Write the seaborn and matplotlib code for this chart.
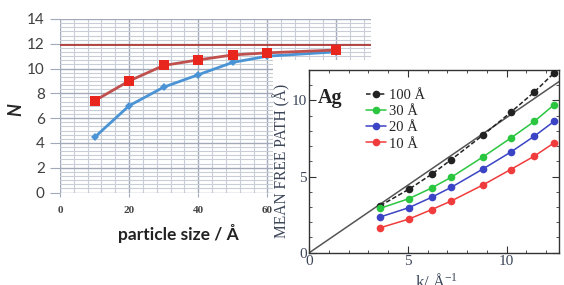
import numpy as np
import matplotlib
matplotlib.use("Agg")
import matplotlib.pyplot as plt
from matplotlib.ticker import MultipleLocator
import seaborn as sns

# left panel: coordination number vs particle size
size = [10, 20, 30, 40, 50, 60, 80]
n_red = [7.4, 9.0, 10.25, 10.7, 11.1, 11.27, 11.5]
n_blue = [4.45, 7.0, 8.5, 9.5, 10.5, 11.0, 11.35]
n_bulk = 11.9

# inset: mean free path vs k
k = [3.6, 5.05, 6.2, 7.2, 8.8, 10.2, 11.4, 12.4]
mfp_100 = [3.09, 4.17, 5.15, 6.12, 7.72, 9.21, 10.55, 11.8]
mfp_30 = [2.92, 3.55, 4.25, 4.96, 6.29, 7.52, 8.62, 9.71]
mfp_20 = [2.35, 2.96, 3.64, 4.3, 5.5, 6.6, 7.65, 8.62]
mfp_10 = [1.64, 2.21, 2.83, 3.4, 4.45, 5.46, 6.34, 7.21]
labels = ["100 Å", "30 Å", "20 Å", "10 Å"]
colors = ["#222222", "#2bc640", "#3a44c4", "#f03c3c"]
bulk_slope = 0.888

sns.set_style("white")
plt.rcParams['font.family'] = ['Lato', 'DejaVu Sans']
plt.rcParams['mathtext.fontset'] = 'stix'

W, H = 564, 285
fig = plt.figure(figsize=(W / 100, H / 100), dpi=100)

# ---- left chart
ax = fig.add_axes([60 / W, 1 - 192.5 / H, (371 - 60) / W, (192.5 - 19) / H])
ax.set_xlim(0, 90)
ax.set_ylim(0, 14)
ax.xaxis.set_major_locator(MultipleLocator(20))
ax.xaxis.set_minor_locator(MultipleLocator(4))
ax.yaxis.set_major_locator(MultipleLocator(2))
ax.yaxis.set_minor_locator(MultipleLocator(2 / 6))
ax.grid(which='major', color='#a2aaba', lw=1.0)
ax.grid(which='minor', color='#c8cdd8', lw=0.8)
ax.set_axisbelow(True)
for s in ax.spines.values():
    s.set_visible(False)
ax.tick_params(axis='y', which='major', length=7, color='#a2aaba', pad=4,
               labelsize=11, labelcolor='#404040', left=True)
ax.tick_params(axis='x', which='major', length=3, color='#a2aaba', pad=7,
               labelsize=8, labelcolor='#444444', bottom=True)
ax.tick_params(which='minor', length=0)
for t in ax.get_xticklabels():
    t.set_family(['Liberation Serif'])
    t.set_fontweight('bold')

ax.axhline(n_bulk, color='#b23a36', lw=1.3, zorder=2)
sns.lineplot(x=size, y=n_blue, ax=ax, color='#4a94d6', lw=2, marker='D',
             markersize=4, markeredgewidth=0, zorder=3)
sns.lineplot(x=size, y=n_red, ax=ax, color='#c0504d', lw=2, marker='s',
             markersize=7, markerfacecolor='#e8261e', markeredgewidth=0, zorder=4)
ax.set_ylabel('N', fontsize=13, fontweight='bold', style='italic', rotation=90)
ax.yaxis.set_label_coords(-(60 - 24) / 311, (192.5 - 110) / 173.5)
ax.set_xlabel('particle size / Å', fontsize=12.5, fontweight='bold', color='#222222')
ax.xaxis.set_label_coords((178 - 60) / 311, -(224 - 192.5) / 173.5)

# ---- white cover behind inset
cover = fig.add_axes([272.5 / W, 0, 1 - 272.5 / W, 1 - 60 / H])
cover.set_facecolor('white')
cover.set_xticks([])
cover.set_yticks([])
for s in cover.spines.values():
    s.set_visible(False)

# ---- inset chart
serif = ['Liberation Serif', 'DejaVu Serif']
ax2 = fig.add_axes([309.3 / W, 1 - 252.7 / H, (559.3 - 309.3) / W, (252.7 - 70) / H])
ax2.set_xlim(0, 12.67)
ax2.set_ylim(0, 12)
ax2.axline((0, 0), slope=bulk_slope, color='#555555', lw=1.1, zorder=1)
series = [mfp_100, mfp_30, mfp_20, mfp_10]
for vals, lab, c in zip(series, labels, colors):
    ls = (0, (3, 1.5)) if lab == "100 Å" else '-'
    sns.lineplot(x=k, y=vals, ax=ax2, color=c, lw=1.1, ls=ls, marker='o',
                 markersize=5.5, markeredgewidth=0, label=lab, zorder=3)
ax2.xaxis.set_major_locator(MultipleLocator(5))
ax2.xaxis.set_minor_locator(MultipleLocator(1))
ax2.yaxis.set_major_locator(MultipleLocator(5))
ax2.yaxis.set_minor_locator(MultipleLocator(1))
ax2.tick_params(which='both', direction='in', top=True, right=True,
                bottom=True, left=True, color='#333333')
ax2.tick_params(which='major', length=5, labelsize=11, labelcolor='#3c4658', pad=2)
ax2.tick_params(which='minor', length=2.5)
for t in ax2.get_xticklabels() + ax2.get_yticklabels():
    t.set_family(serif)
for s in ax2.spines.values():
    s.set_color('#333333')
    s.set_linewidth(1.0)
ax2.set_ylabel('MEAN FREE PATH (Å)', family=serif, fontsize=11.2, color='#3c4658')
ax2.yaxis.set_label_coords(-(309.3 - 290.5) / 250, (252.7 - 161) / 182.7)
ax2.set_xlabel('k/ Å$^{\\mathregular{-1}}$', family=serif, fontsize=12, color='#3c4658')
ax2.xaxis.set_label_coords((437 - 309.3) / 250, -(273 - 252.7) / 182.7)
ax2.text(0.45, 10.15, 'Ag', family=serif, fontsize=14.5, fontweight='bold',
         va='center', ha='left', color='#222222')
ax2.legend(loc='upper left', bbox_to_anchor=(366 / W, 1 - 89 / H),
           bbox_transform=fig.transFigure, frameon=False, borderpad=0,
           borderaxespad=0, handlelength=1.4, handletextpad=0.15,
           labelspacing=0.2, prop={'family': serif, 'size': 10.5})

fig.savefig('out.png', dpi=100)
